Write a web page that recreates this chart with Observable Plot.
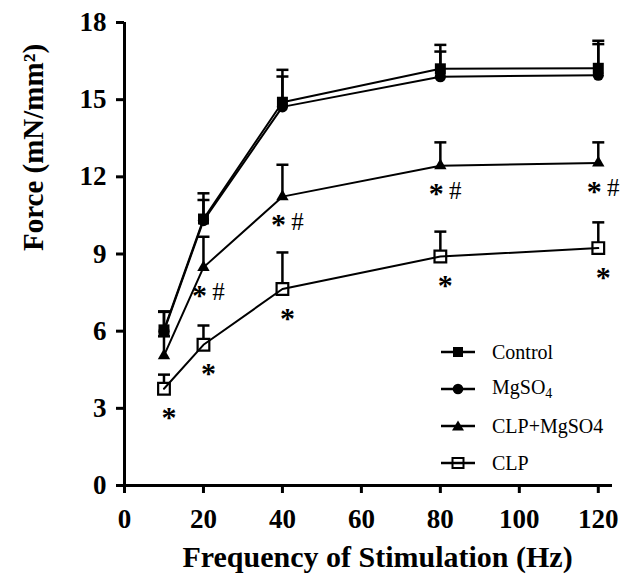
<!DOCTYPE html>
<html><head><meta charset="utf-8">
<script src="https://cdn.jsdelivr.net/npm/d3@7"></script>
<script src="https://cdn.jsdelivr.net/npm/@observablehq/plot@0.6"></script>
<style>
body{margin:0;background:#fff;}
#wrap{position:relative;width:632px;height:584px;}
#legend{position:absolute;left:441px;top:333px;font-family:"Liberation Serif","Times New Roman",serif;font-size:20px;color:#000;}
.row{display:flex;align-items:center;height:37px;}
.row svg{display:block;}
.row span{margin-left:17px;line-height:1;}
</style></head><body>
<div id="wrap"></div>
<script>
// ---- data ----
const frequencies = [10, 20, 40, 80, 120];
const seriesNames = ["Control", "MgSO4", "CLP+MgSO4", "CLP"];
const controlMean = [6.05, 10.36, 14.9, 16.2, 16.22];
const controlErr  = [0.72, 1.0, 1.26, 0.93, 1.07];
const mgso4Mean   = [6.0, 10.3, 14.72, 15.89, 15.95];
const mgso4Err    = [0.75, 0.8, 1.18, 0.98, 1.21];
const clpMgMean   = [5.05, 8.48, 11.23, 12.43, 12.54];
const clpMgErr    = [0.75, 1.19, 1.24, 0.91, 0.8];
const clpMean     = [3.76, 5.47, 7.64, 8.9, 9.23];
const clpErr      = [0.55, 0.75, 1.42, 0.97, 1.0];
const xTicks = [0, 20, 40, 60, 80, 100, 120];
const yTicks = [0, 3, 6, 9, 12, 15, 18];
const xTitle = "Frequency of Stimulation (Hz)";
const yTitle = "Force (mN/mm²)";
const clpStarFreqs = [10, 20, 40, 80, 120];
const clpMgMarkFreqs = [20, 40, 80, 120];

const means = [controlMean, mgso4Mean, clpMgMean, clpMean];
const errs = [controlErr, mgso4Err, clpMgErr, clpErr];
const rows = seriesNames.flatMap((s, i) => frequencies.map((f, j) => ({series: s, f, v: means[i][j], e: errs[i][j]})));
const bySeries = s => rows.filter(d => d.series === s);
const clpStars = rows.filter(d => d.series === "CLP" && clpStarFreqs.includes(d.f));
const clpMgMarks = rows.filter(d => d.series === "CLP+MgSO4" && clpMgMarkFreqs.includes(d.f));

const serif = "'Liberation Serif', 'Times New Roman', serif";
const cap = {draw(ctx) { ctx.moveTo(-6, 0); ctx.lineTo(6, 0); }};

const chart = Plot.plot({
  width: 632, height: 584,
  marginLeft: 124, marginRight: 20, marginTop: 22, marginBottom: 99,
  style: {fontFamily: serif, background: "#fff", overflow: "visible"},
  x: {domain: [0, 123.6]},
  y: {domain: [0, 18]},
  marks: [
    Plot.axisX(xTicks, {tickSize: 8, tickPadding: 15, strokeWidth: 3, fontSize: 27, fontWeight: "bold", fontFamily: serif, label: null}),
    Plot.axisY(yTicks, {tickSize: 8, tickPadding: 10, strokeWidth: 3, fontSize: 27, fontWeight: "bold", fontFamily: serif, label: null}),
    Plot.text([xTitle], {frameAnchor: "bottom", dx: 9, dy: 81, fontSize: 30, fontWeight: "bold", fontFamily: serif}),
    Plot.text([yTitle], {frameAnchor: "left", rotate: -90, dx: -91, dy: -3, fontSize: 29, fontWeight: "bold", fontFamily: serif}),
    Plot.ruleX([0], {strokeWidth: 3}),
    Plot.ruleY([0], {strokeWidth: 3}),
    // error bars
    Plot.ruleX(rows, {x: "f", y1: "v", y2: d => d.v + d.e, strokeWidth: 2.5}),
    Plot.dot(rows, {x: "f", y: d => d.v + d.e, symbol: cap, r: 6, stroke: "black", fill: "none", strokeWidth: 2.5}),
    // open squares (CLP)
    Plot.dot(bySeries("CLP"), {x: "f", y: "v", symbol: "square", r: 6.6, fill: "white", stroke: "black", strokeWidth: 2.2}),
    // lines
    Plot.line(rows, {x: "f", y: "v", z: "series", stroke: "black", strokeWidth: 2}),
    // filled markers
    Plot.dot(bySeries("MgSO4"), {x: "f", y: "v", symbol: "circle", r: 5.6, fill: "black"}),
    Plot.dot(bySeries("Control"), {x: "f", y: "v", symbol: "square", r: 6.2, fill: "black"}),
    Plot.dot(bySeries("CLP+MgSO4"), {x: "f", y: "v", symbol: "triangle", r: 4.6, fill: "black"}),
    // significance marks
    Plot.text(clpStars, {x: "f", y: "v", text: () => "*", dx: 5, dy: 29, fontSize: 30, fontWeight: "bold", fontFamily: serif}),
    Plot.text(clpMgMarks, {x: "f", y: "v", text: () => "*", dx: -4, dy: 28, fontSize: 30, fontWeight: "bold", fontFamily: serif}),
    Plot.text(clpMgMarks, {x: "f", y: "v", text: () => "#", dx: 15, dy: 25, fontSize: 25, fontFamily: serif})
  ]
});
const wrap = document.getElementById("wrap");
wrap.appendChild(chart);

// legend
const legendItems = [
  {name: "Control", html: "Control", sym: "fsquare"},
  {name: "MgSO4", html: "MgSO<sub style='font-size:14px;vertical-align:-4px'>4</sub>", sym: "circle"},
  {name: "CLP+MgSO4", html: "CLP+MgSO4", sym: "triangle"},
  {name: "CLP", html: "CLP", sym: "osquare"}
];
const leg = document.createElement("div");
leg.id = "legend";
for (const it of legendItems) {
  const r = document.createElement("div");
  r.className = "row";
  let m = "";
  if (it.sym === "fsquare") m = "<rect x='12' y='3' width='10' height='10' fill='black'/>";
  if (it.sym === "circle") m = "<circle cx='17' cy='8' r='5.3' fill='black'/>";
  if (it.sym === "triangle") m = "<path d='M17,2.5 L23,12.5 L11,12.5 Z' fill='black'/>";
  if (it.sym === "osquare") m = "<rect x='11.5' y='3' width='11' height='10' fill='white' stroke='black' stroke-width='2'/>";
  const line = "<line x1='0' x2='34' y1='8' y2='8' stroke='black' stroke-width='2.5'/>";
  r.innerHTML = `<svg width='34' height='16'>${it.sym === "osquare" ? m + line : line + m}</svg><span>${it.html}</span>`;
  leg.appendChild(r);
}
wrap.appendChild(leg);
</script>
</body></html>
